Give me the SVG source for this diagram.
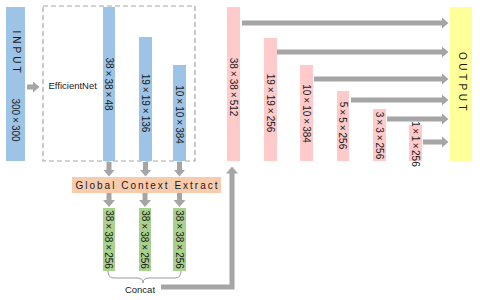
<svg xmlns="http://www.w3.org/2000/svg" width="480" height="300" viewBox="0 0 480 300">
<style>
text{font-family:"Liberation Sans",Arial,sans-serif;fill:#1a1a1a;}
.lbl{font-size:10px;text-anchor:middle;dominant-baseline:central;}
.blue{fill:#9dc3e6;}
.pink{fill:#ffcaca;}
.green{fill:#a9d18e;}
.conn{fill:none;stroke:#a5a5a5;stroke-width:5;marker-end:url(#ah);}
</style>
<defs>
<marker id="ah" markerUnits="userSpaceOnUse" markerWidth="7" markerHeight="12" refX="0.5" refY="6" orient="auto" viewBox="0 0 7 12"><path d="M0,0 L7,6 L0,12 z" fill="#a5a5a5"/></marker>
</defs>
<rect width="480" height="300" fill="#fff"/>

<g id="input">
<rect class="blue" x="6" y="7" width="19" height="154"/>
<text class="lbl" transform="translate(16.5,53) rotate(90)" letter-spacing="3">INPUT</text>
<text class="lbl" transform="translate(15.5,120) rotate(90)">300<tspan dx="2">×</tspan><tspan dx="2">300</tspan></text>
</g>

<g id="efficientnet">
<rect x="43" y="6" width="152" height="155" fill="none" stroke="#a6a6a6" stroke-width="1.2" stroke-dasharray="5,3"/>
<text x="48.5" y="89" font-size="9.5">EfficientNet</text>
</g>

<g id="b1">
<rect class="blue" x="103" y="7" width="12" height="154"/>
<text class="lbl" transform="translate(109,84) rotate(90)">38<tspan dx="2">×</tspan><tspan dx="2">38</tspan><tspan dx="2">×</tspan><tspan dx="2">48</tspan></text>
</g>
<g id="b2">
<rect class="blue" x="139" y="37" width="13" height="124"/>
<text class="lbl" transform="translate(145.5,103) rotate(90)">19<tspan dx="2">×</tspan><tspan dx="2">19</tspan><tspan dx="2">×</tspan><tspan dx="2">136</tspan></text>
</g>
<g id="b3">
<rect class="blue" x="173" y="65" width="13" height="96"/>
<text class="lbl" transform="translate(179.5,114.5) rotate(90)">10<tspan dx="2">×</tspan><tspan dx="2">10</tspan><tspan dx="2">×</tspan><tspan dx="2">384</tspan></text>
</g>

<g id="gce">
<rect x="72" y="177" width="149" height="16" fill="#f8cbad"/>
<text x="147.5" y="185" font-size="10" text-anchor="middle" dominant-baseline="central" letter-spacing="2">Global Context Extract</text>
</g>

<g id="g1">
<rect class="green" x="103" y="208" width="12" height="63"/>
<text class="lbl" transform="translate(109,239.5) rotate(90)">38<tspan dx="2">×</tspan><tspan dx="2">38</tspan><tspan dx="2">×</tspan><tspan dx="2">256</tspan></text>
</g>
<g id="g2">
<rect class="green" x="139" y="208" width="12" height="63"/>
<text class="lbl" transform="translate(145,239.5) rotate(90)">38<tspan dx="2">×</tspan><tspan dx="2">38</tspan><tspan dx="2">×</tspan><tspan dx="2">256</tspan></text>
</g>
<g id="g3">
<rect class="green" x="173" y="208" width="13" height="63"/>
<text class="lbl" transform="translate(179.5,239.5) rotate(90)">38<tspan dx="2">×</tspan><tspan dx="2">38</tspan><tspan dx="2">×</tspan><tspan dx="2">256</tspan></text>
</g>

<g id="concat">
<path d="M108,271 Q108,278 114,278 L137,278 Q143,278 143,283 Q143,278 149,278 L175,278 Q181,278 181,271" fill="none" stroke="#999" stroke-width="1"/>
<text x="140" y="293" font-size="9.5" text-anchor="middle">Concat</text>
</g>

<g id="p1">
<rect class="pink" x="227" y="7" width="13" height="154"/>
<text class="lbl" transform="translate(233.5,87) rotate(90)">38<tspan dx="2">×</tspan><tspan dx="2">38</tspan><tspan dx="2">×</tspan><tspan dx="2">512</tspan></text>
</g>
<g id="p2">
<rect class="pink" x="264" y="38" width="13" height="123"/>
<text class="lbl" transform="translate(270.5,103) rotate(90)">19<tspan dx="2">×</tspan><tspan dx="2">19</tspan><tspan dx="2">×</tspan><tspan dx="2">256</tspan></text>
</g>
<g id="p3">
<rect class="pink" x="300" y="65" width="13" height="96"/>
<text class="lbl" transform="translate(306.5,113.5) rotate(90)">10<tspan dx="2">×</tspan><tspan dx="2">10</tspan><tspan dx="2">×</tspan><tspan dx="2">384</tspan></text>
</g>
<g id="p4">
<rect class="pink" x="337" y="91" width="12" height="70"/>
<text class="lbl" transform="translate(343,125.5) rotate(90)">5<tspan dx="2">×</tspan><tspan dx="2">5</tspan><tspan dx="2">×</tspan><tspan dx="2">256</tspan></text>
</g>
<g id="p5">
<rect class="pink" x="373" y="109" width="13" height="52"/>
<text class="lbl" transform="translate(379.5,135.5) rotate(90)">3<tspan dx="2">×</tspan><tspan dx="2">3</tspan><tspan dx="2">×</tspan><tspan dx="2">256</tspan></text>
</g>
<g id="p6">
<rect class="pink" x="409" y="125" width="13" height="36"/>
<text class="lbl" transform="translate(415.5,144) rotate(90)">1<tspan dx="1.5">×</tspan><tspan dx="1.5">1</tspan><tspan dx="1.5">×</tspan><tspan dx="1.5">256</tspan></text>
</g>

<g id="output">
<rect x="450" y="7" width="22" height="154" fill="#ffff99"/>
<text class="lbl" transform="translate(462.5,83) rotate(90)" letter-spacing="3.5">OUTPUT</text>
</g>

<g id="connectors">
<line class="conn" x1="27" y1="87" x2="33" y2="87"/>
<line class="conn" x1="109" y1="162" x2="109" y2="170"/>
<line class="conn" x1="145.5" y1="162" x2="145.5" y2="170"/>
<line class="conn" x1="179.5" y1="162" x2="179.5" y2="170"/>
<line class="conn" x1="109" y1="193" x2="109" y2="200.5"/>
<line class="conn" x1="145" y1="193" x2="145" y2="200.5"/>
<line class="conn" x1="179.5" y1="193" x2="179.5" y2="200.5"/>
<polyline class="conn" points="161,287 232,287 232,173" stroke-linejoin="miter"/>
<line class="conn" x1="242" y1="23" x2="442" y2="23"/>
<line class="conn" x1="277" y1="52" x2="442" y2="52"/>
<line class="conn" x1="314" y1="79" x2="442" y2="79"/>
<line class="conn" x1="351" y1="100" x2="442" y2="100"/>
<line class="conn" x1="387" y1="119" x2="442" y2="119"/>
<line class="conn" x1="423" y1="142" x2="442" y2="142"/>
</g>
</svg>
